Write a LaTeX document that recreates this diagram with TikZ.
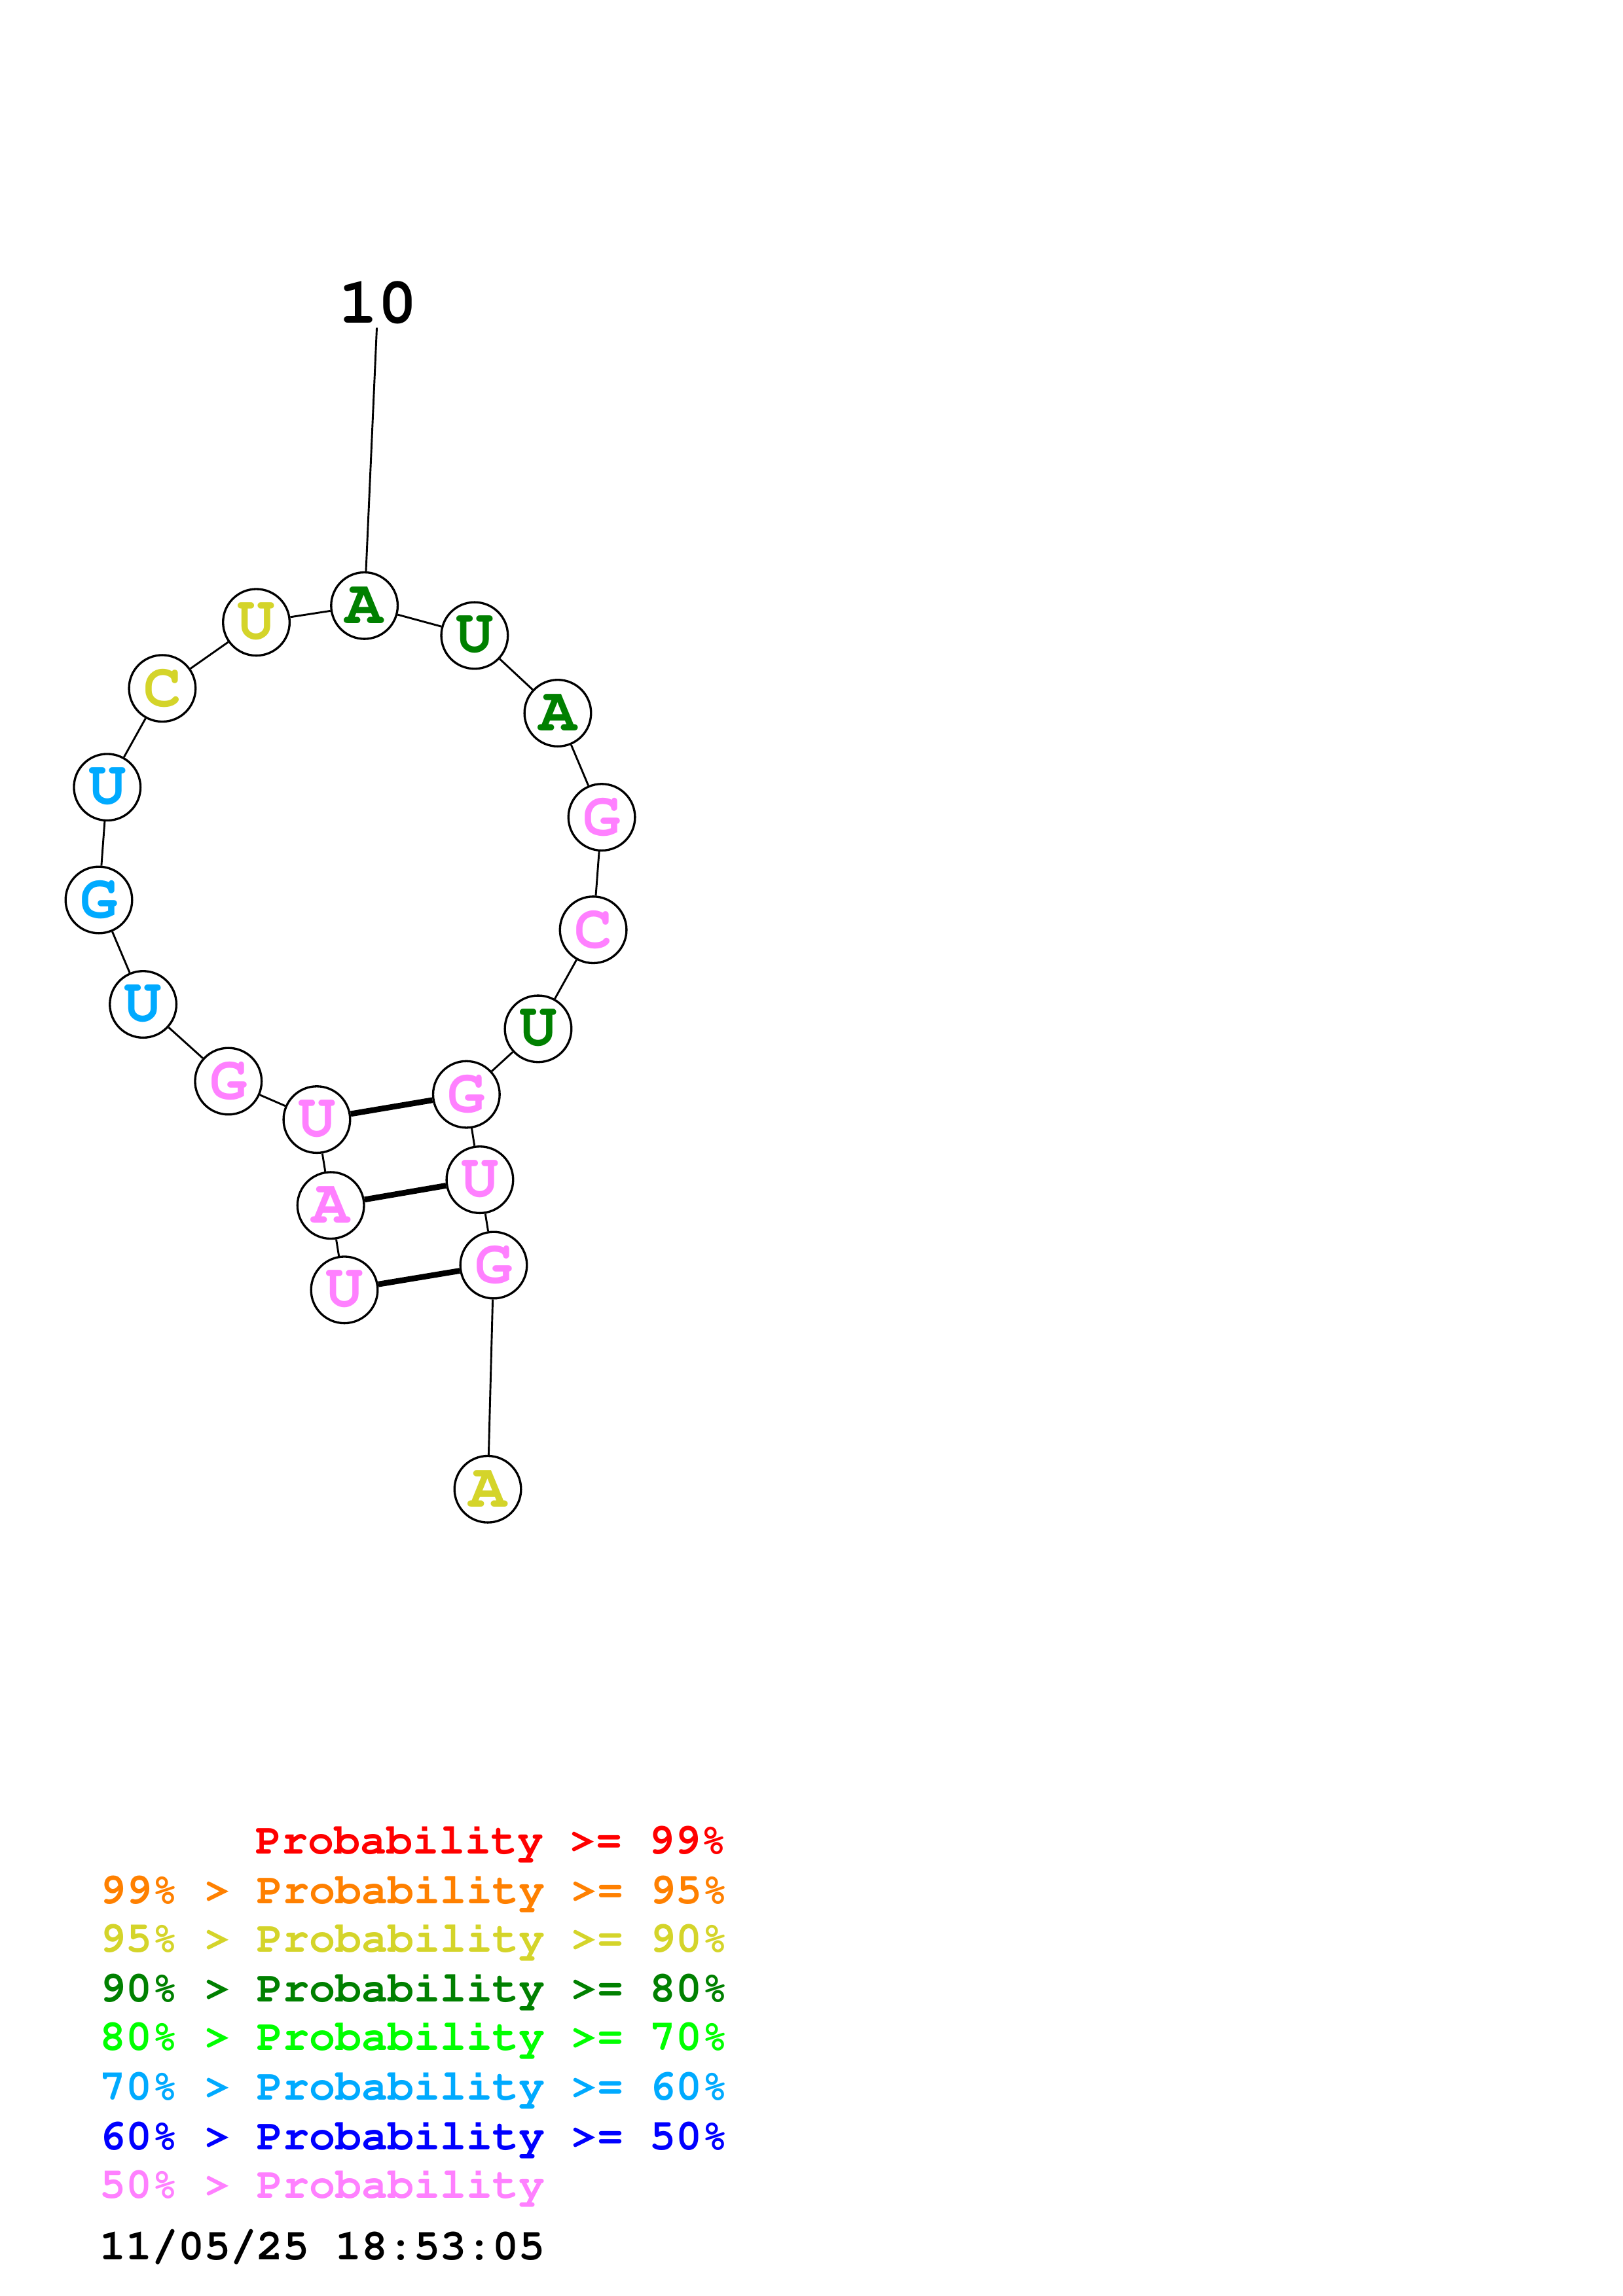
\documentclass[tikz,border=0pt]{standalone}
\usepackage[T1]{fontenc}
\usepackage{courier}
\usepackage{tikz}
\definecolor{cred}{RGB}{255,0,0}
\definecolor{corange}{RGB}{255,128,0}
\definecolor{cyellow}{RGB}{212,212,42}
\definecolor{cgreen}{RGB}{0,128,0}
\definecolor{clime}{RGB}{0,255,0}
\definecolor{csky}{RGB}{0,170,255}
\definecolor{cblue}{RGB}{0,0,255}
\definecolor{cpink}{RGB}{255,128,255}
\tikzset{%
    nt/.style={circle,draw=black,line width=0.8pt,fill=white,inner sep=0pt,
        minimum size=24.4pt,font=\ttfamily\bfseries\fontsize{23}{23}\selectfont},
    bb/.style={line width=0.7pt},
    bp/.style={line width=2.1pt},
    leg/.style={anchor=base west,inner sep=0pt,font=\ttfamily\bfseries\fontsize{16}{16}\selectfont}
}

\begin{document}
\begin{tikzpicture}[x=0.537pt,y=-0.537pt]
        \useasboundingbox (0,0) rectangle (1108,1568);

        \node[font=\ttfamily\bfseries\fontsize{24}{24}\selectfont,inner sep=1pt] (lbl) at (258,207){10};

        \node[nt,text=cyellow] (n1) at (333,1017){A};
        \node[nt,text=cpink] (n2) at (337,864){G};
        \node[nt,text=cpink] (n3) at (327.6,805.7){U};
        \node[nt,text=cpink] (n4) at (318.4,747.4){G};
        \node[nt,text=cgreen] (n5) at (367.4,702.6){U};
        \node[nt,text=cpink] (n6) at (405,635){C};
        \node[nt,text=cpink] (n7) at (410.8,558.1){G};
        \node[nt,text=cgreen] (n8) at (380.8,487){A};
        \node[nt,text=cgreen] (n9) at (324,434){U};
        \node[nt,text=cgreen] (n10) at (248.8,413.6){A};
        \node[nt,text=cyellow] (n11) at (175,425){U};
        \node[nt,text=cyellow] (n12) at (110.8,470.1){C};
        \node[nt,text=csky] (n13) at (73.2,537.6){U};
        \node[nt,text=csky] (n14) at (67.5,614.6){G};
        \node[nt,text=csky] (n15) at (97.7,685.9){U};
        \node[nt,text=cpink] (n16) at (155.9,738.4){G};
        \node[nt,text=cpink] (n17) at (216.3,764.6){U};
        \node[nt,text=cpink] (n18) at (225.8,823.2){A};
        \node[nt,text=cpink] (n19) at (235.1,880.9){U};

        \draw[bb] (lbl) -- (n10);

        \draw[bb] (n1) -- (n2);
        \draw[bb] (n2) -- (n3);
        \draw[bb] (n3) -- (n4);
        \draw[bb] (n4) -- (n5);
        \draw[bb] (n5) -- (n6);
        \draw[bb] (n6) -- (n7);
        \draw[bb] (n7) -- (n8);
        \draw[bb] (n8) -- (n9);
        \draw[bb] (n9) -- (n10);
        \draw[bb] (n10) -- (n11);
        \draw[bb] (n11) -- (n12);
        \draw[bb] (n12) -- (n13);
        \draw[bb] (n13) -- (n14);
        \draw[bb] (n14) -- (n15);
        \draw[bb] (n15) -- (n16);
        \draw[bb] (n16) -- (n17);
        \draw[bb] (n17) -- (n18);
        \draw[bb] (n18) -- (n19);

        \draw[bp] (n17) -- (n4);
        \draw[bp] (n18) -- (n3);
        \draw[bp] (n19) -- (n2);

        \node[leg,text=cred] (l1) at (174,1266){Probability >= 99\%};
        \node[leg,text=corange] (l2) at (68,1300){99\% > Probability >= 95\%};
        \node[leg,text=cyellow] (l3) at (68,1333){95\% > Probability >= 90\%};
        \node[leg,text=cgreen] (l4) at (68,1367){90\% > Probability >= 80\%};
        \node[leg,text=clime] (l5) at (68,1400){80\% > Probability >= 70\%};
        \node[leg,text=csky] (l6) at (68,1434){70\% > Probability >= 60\%};
        \node[leg,text=cblue] (l7) at (68,1468){60\% > Probability >= 50\%};
        \node[leg,text=cpink] (l8) at (68,1501){50\% > Probability};
        \node[leg] (date) at (68,1543){11/05/25 18:53:05};
    \end{tikzpicture}
\end{document}
